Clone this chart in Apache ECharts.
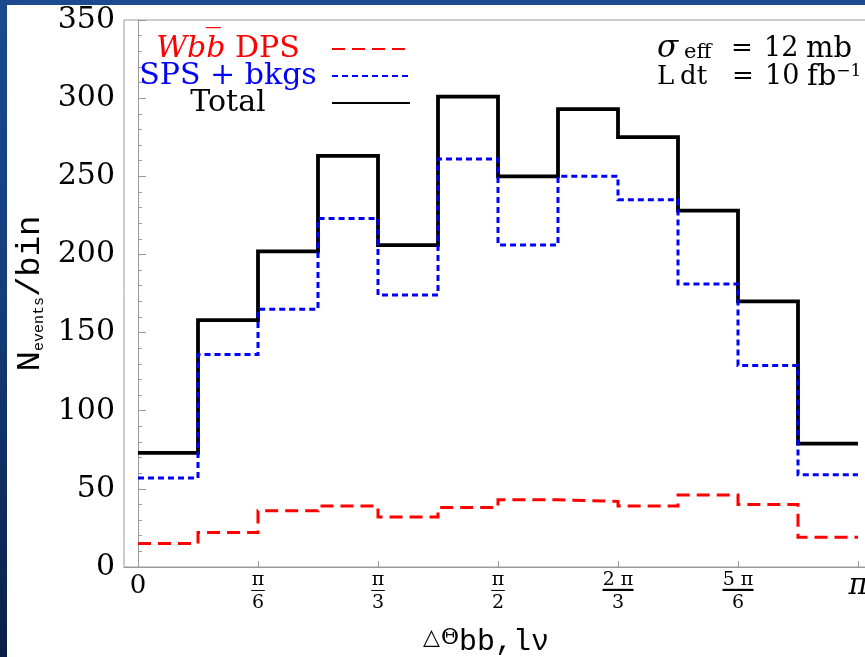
<!DOCTYPE html>
<html><head><meta charset="utf-8">
<script src="https://cdn.jsdelivr.net/npm/echarts@6/dist/echarts.min.js"></script>
<style>
html,body{margin:0;padding:0;background:#fff;}
#wrap{position:relative;width:865px;height:657px;overflow:hidden;background:linear-gradient(to bottom,#1b4a90 0%,#153d7a 45%,#0a1f46 100%);}
#chart{position:absolute;left:7px;top:5px;width:858px;height:652px;background:#fff;}
</style></head><body>
<div id="wrap"><div id="chart"></div></div>
<script>
// Bin edges in units of pi/12 (12 bins from 0 to pi)
const binEdges = [0,1,2,3,4,5,6,7,8,9,10,11,12];
const dpsValues   = [15, 22, 36, 39, 32, 38, 43, 42, 39, 46, 40, 19];
const spsValues   = [57, 136, 165, 223, 174, 261, 206, 250, 235, 181, 129, 59];
const totalValues = [73, 158, 202, 263, 206, 301, 250, 293, 275, 228, 170, 79];
const xTickValues = [0, 2, 4, 6, 8, 10, 12];
const xTickLabels = [['0'], ['π','6'], ['π','3'], ['π','2'], ['2 π','3'], ['5 π','6'], ['π']];
const seriesNames = ['Wbb DPS', 'SPS + bkgs', 'Total'];

function stepData(vals) {
  const d = vals.map((v, i) => [binEdges[i], v]);
  d.push([binEdges[vals.length], vals[vals.length - 1]]);
  return d;
}
function xLabel(v) {
  const idx = xTickValues.indexOf(v);
  if (idx < 0) return '';
  const l = xTickLabels[idx];
  if (l.length === 1) return l[0] === '0' ? '{z|0}' : '{p|π}';
  const bar = l[0].length > 1 ? '{b2|—}' : '{b1|—}';
  return '{n|' + l[0] + '}\n' + bar + '\n{d|' + l[1] + '}';
}

const chart = echarts.init(document.getElementById('chart'));
const serif = 'DejaVu Serif';
const mono = 'Liberation Mono';
const tBase = { fontFamily: serif, fontWeight: 'normal', fontSize: 26, lineHeight: 28, color: '#000', align: 'left' };
chart.setOption({
  backgroundColor: '#fff',
  animation: false,
  grid: { left: 117, right: -5, top: 15, bottom: 90, outerBoundsMode: 'none', containLabel: false,
          show: true, borderColor: '#9a9a9a', borderWidth: 1, backgroundColor: 'transparent' },
  title: {
    left: 650, top: 30, padding: 0,
    text: '{sg|σ}{sub|eff}{eq|=}{num|12}{t|mb}\n{L|L}{dt|dt}{eq|=}{num|10}{t|fb}{sup|−1}',
    textStyle: {
      fontWeight: 'normal',
      rich: {
        sg: Object.assign({}, tBase, { fontStyle: 'italic', fontSize: 31, width: 27 }),
        sub: Object.assign({}, tBase, { fontSize: 21, lineHeight: 18, verticalAlign: 'bottom', width: 47 }),
        eq: Object.assign({}, tBase, { width: 33 }),
        num: Object.assign({}, tBase, { fontSize: 27, width: 42 }),
        t: Object.assign({}, tBase, { fontSize: 29 }),
        L: Object.assign({}, tBase, { width: 23 }),
        dt: Object.assign({}, tBase, { width: 52 }),
        sup: Object.assign({}, tBase, { fontSize: 17, lineHeight: 16, verticalAlign: 'top' })
      }
    }
  },
  legend: {
    orient: 'vertical', align: 'right', left: 122, top: 29, padding: 0, itemGap: -3,
    itemWidth: 78, itemHeight: 14,
    data: seriesNames,
    itemStyle: { opacity: 0 },
    formatter: function (name) {
      if (name === seriesNames[0]) return '{di|Wbb\u0305}{dr| DPS}';
      if (name === seriesNames[1]) return '{s|SPS + bkgs}';
      return '{t|Total}';
    },
    textStyle: {
      width: 198, lineHeight: 27,
      rich: {
        di: { fontFamily: serif, fontStyle: 'italic', fontSize: 30, color: '#ff0000', align: 'center', lineHeight: 27 },
        dr: { fontFamily: serif, fontSize: 30, color: '#ff0000', align: 'center', lineHeight: 27 },
        s: { fontFamily: serif, fontSize: 30, color: '#0000ff', align: 'center', lineHeight: 27 },
        t: { fontFamily: serif, fontSize: 30, color: '#000', align: 'center', lineHeight: 27 }
      }
    }
  },
  xAxis: {
    type: 'value', min: -14 / 60, max: -14 / 60 + 746 / 60,
    name: '{d|△}{t|Θ}{s|bb,lν}', nameLocation: 'middle', nameGap: 52,
    nameTextStyle: {
      padding: [0, 22, 0, 0],
      rich: {
        d: { fontFamily: 'DejaVu Sans', fontSize: 22, lineHeight: 38, verticalAlign: 'middle', color: '#000' },
        t: { fontFamily: serif, fontSize: 22, lineHeight: 38, verticalAlign: 'middle', color: '#000', padding: [0, 0, 0, 1] },
        s: { fontFamily: mono, fontSize: 30, lineHeight: 30, verticalAlign: 'middle', padding: [8, 0, 0, 0], color: '#000' }
      }
    },
    axisLine: { show: true, lineStyle: { color: '#9a9a9a', width: 1 } },
    axisTick: { show: true, inside: true, length: 6, customValues: xTickValues, lineStyle: { color: '#9a9a9a' } },
    splitLine: { show: false },
    axisLabel: {
      customValues: xTickValues, margin: 6, formatter: xLabel, color: '#000',
      rich: {
        z: { fontFamily: serif, fontSize: 26, lineHeight: 26, color: '#000' },
        p: { fontFamily: serif, fontStyle: 'italic', fontSize: 29, lineHeight: 26, color: '#000' },
        n: { fontFamily: serif, fontSize: 19, lineHeight: 14, color: '#000' },
        b1: { fontFamily: serif, fontSize: 15, lineHeight: 6, color: '#000' },
        b2: { fontFamily: serif, fontSize: 34, lineHeight: 6, color: '#000' },
        d: { fontFamily: serif, fontSize: 19, lineHeight: 20, color: '#000' }
      }
    }
  },
  yAxis: {
    type: 'value', min: 0, max: 350, interval: 50,
    name: '{n|N}{s|events}{n|/bin}', nameLocation: 'middle', nameRotate: 90, nameGap: 71,
    nameTextStyle: {
      rich: {
        n: { fontFamily: mono, fontSize: 34, lineHeight: 34, color: '#000' },
        s: { fontFamily: mono, fontSize: 15, lineHeight: 15, verticalAlign: 'bottom', color: '#000' }
      }
    },
    axisLine: { show: true, lineStyle: { color: '#9a9a9a', width: 1 } },
    axisTick: { show: true, inside: true, length: 8, lineStyle: { color: '#9a9a9a' } },
    minorTick: { show: true, splitNumber: 5, length: 4, lineStyle: { color: '#9a9a9a' } },
    splitLine: { show: false },
    minorSplitLine: { show: false },
    axisLabel: { margin: 9, fontFamily: serif, fontSize: 30, color: '#000' }
  },
  series: [
    { name: seriesNames[2], type: 'line', step: 'end', symbol: 'none', data: stepData(totalValues),
      lineStyle: { color: '#000', width: 3.8, cap: 'butt', join: 'miter' }, itemStyle: { color: '#000' }, z: 2 },
    { name: seriesNames[1], type: 'line', step: 'end', symbol: 'none', data: stepData(spsValues),
      lineStyle: { color: '#0000ff', width: 3, type: [6, 4], cap: 'butt', join: 'miter' }, itemStyle: { color: '#0000ff' }, z: 3 },
    { name: seriesNames[0], type: 'line', step: 'end', symbol: 'none', data: stepData(dpsValues),
      lineStyle: { color: '#ff0000', width: 3, type: [13, 7], cap: 'butt', join: 'miter' }, itemStyle: { color: '#ff0000' }, z: 4 }
  ]
});
</script>
</body></html>
